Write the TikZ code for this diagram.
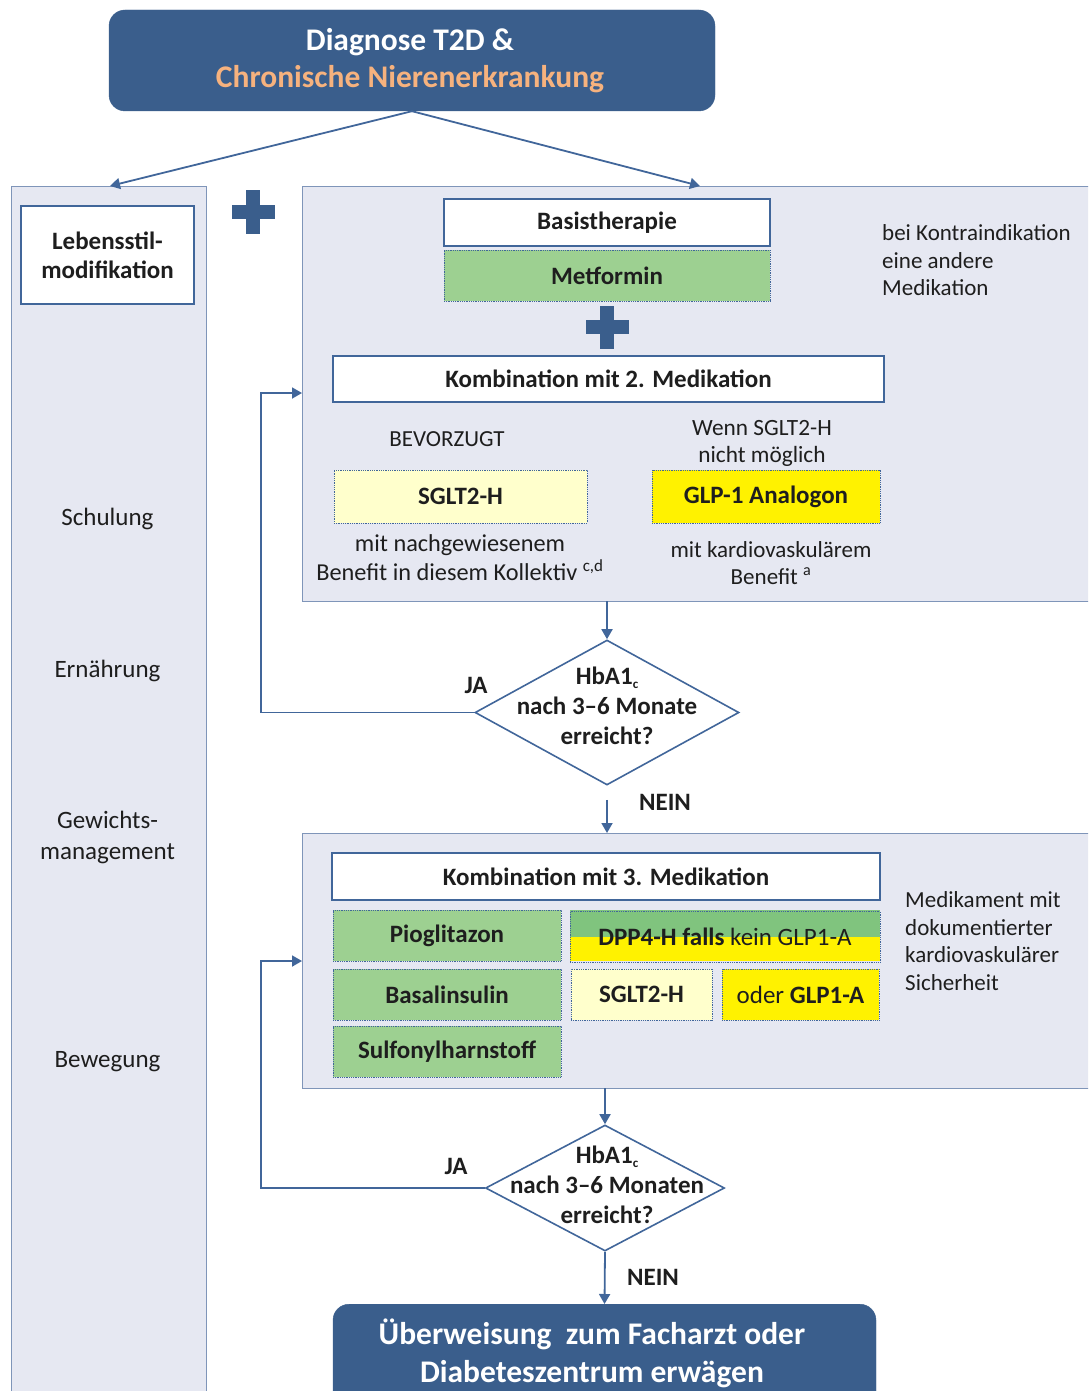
\documentclass[tikz,border=0pt]{standalone}
\usepackage{fontspec}
\setmainfont{Carlito}
\usetikzlibrary{arrows.meta,shapes.geometric}
\definecolor{dblue}{HTML}{3A5E8C}
\definecolor{lineblue}{HTML}{41669A}
\definecolor{panelfill}{HTML}{E6E8F2}
\definecolor{panelborder}{HTML}{7F95B9}
\definecolor{mgreen}{HTML}{9DD091}
\definecolor{dgreen}{HTML}{80C47E}
\definecolor{lyellow}{HTML}{FFFFCC}
\definecolor{orangetxt}{HTML}{F6B27E}
\definecolor{txtcol}{HTML}{1E1E1E}
\tikzset{
  panelbox/.style={draw=panelborder, line width=1pt, fill=panelfill, anchor=north west, inner sep=0},
  wbox/.style={draw=lineblue, line width=1.6pt, fill=white, inner sep=0, align=center, text=txtcol,
    font=\bfseries\fontsize{25}{29}\selectfont},
  dbox/.style={draw=lineblue, densely dotted, line width=0.8pt, inner sep=0, align=center, text=txtcol,
    font=\bfseries\fontsize{25}{29}\selectfont},
  txt/.style={inner sep=0, align=center, text=txtcol, font=\fontsize{25}{31}\selectfont},
  btxt/.style={inner sep=0, align=center, text=txtcol, font=\bfseries\fontsize{25}{30}\selectfont},
  side/.style={inner sep=0, align=left, anchor=west, text=txtcol, font=\fontsize{23}{27.5}\selectfont},
  bluebox/.style={fill=dblue, draw=dblue, rounded corners=16pt, inner sep=0},
  diam/.style={diamond, draw=lineblue, line width=1.6pt, fill=white, inner sep=0},
  arr/.style={draw=lineblue, line width=1.8pt, -{Triangle[width=11pt,length=10pt]}},
}
\newcommand{\hbac}{HbA1\raisebox{-0.35ex}{\fontsize{13}{13}\selectfont c}}
\begin{document}
\begin{tikzpicture}[x=1pt,y=-1pt]
\useasboundingbox (0,0) rectangle (1088,1391);
\clip (0,0) rectangle (1088,1391);

% panels
\node[panelbox, minimum width=195pt, minimum height=1220pt] (lp) at (11,186) {};
\node[panelbox, minimum width=800pt, minimum height=415pt] (rp1) at (302,186) {};
\node[panelbox, minimum width=800pt, minimum height=255pt] (rp2) at (302,833) {};

% title
\node[bluebox, minimum width=606pt, minimum height=101pt] (title) at (412,60.5) {};
\node[inner sep=0, align=center, font=\bfseries\fontsize{31.5}{37}\selectfont] (titletxt) at (410,61)
  {\textcolor{white}{Diagnose T2D \&}\\\textcolor{orangetxt}{Chronische Nierenerkrankung}};

\coordinate (lpTop) at (110,186);
\coordinate (rpTop) at (700,186);
\draw[arr] (title.south) -- (lpTop);
\draw[arr] (title.south) -- (rpTop);

% left column
\node[wbox, minimum width=173pt, minimum height=98pt] (lsm) at (107.5,255) {Lebensstil-\\modifikation};
\node[txt] (schul) at (107.5,519) {Schulung};
\node[txt] (ern) at (107.5,671) {Ernährung};
\node[txt] (gew) at (107.5,837) {Gewichts-\\management};
\node[txt] (bew) at (107.5,1062) {Bewegung};

% plus icons
\fill[dblue] (231.5,205) rectangle (274.5,219);
\fill[dblue] (246,190.5) rectangle (260,233.5);
\fill[dblue] (585.5,320) rectangle (628.5,334);
\fill[dblue] (600,305.5) rectangle (614,348.5);

% panel 1
\node[wbox, minimum width=326pt, minimum height=47pt] (basis) at (607,222.5) {Basistherapie};
\node[dbox, fill=mgreen, minimum width=326pt, minimum height=51pt] (met) at (607,275.5) {Metformin};
\node[side] (kontra) at (882,260.5) {bei Kontraindikation\\eine andere\\Medikation};
\node[wbox, minimum width=551pt, minimum height=46pt] (komb2) at (608.5,379) {Kombination mit 2. Medikation};
\node[txt, font=\fontsize{23}{27}\selectfont] (bev) at (447,439) {BEVORZUGT};
\node[txt, font=\fontsize{23.3}{27}\selectfont] (wenn) at (762,443.5) {Wenn SGLT2-H\\nicht möglich};
\node[dbox, fill=lyellow, minimum width=253pt, minimum height=53pt] (sglt) at (460.5,496.5) {SGLT2-H};
\node[dbox, fill=yellow, minimum width=228pt, minimum height=53pt] (glp) at (766,496.5) {GLP-1 Analogon};
\node[txt, font=\fontsize{24.3}{29}\selectfont] (sgltnote) at (460,557.5) {mit nachgewiesenem\\Benefit in diesem Kollektiv \textsuperscript{c,d}};
\node[txt, font=\fontsize{23}{27}\selectfont] (glpnote) at (771,563.5) {mit kardiovaskulärem\\Benefit \textsuperscript{a}};

% diamond 1
\coordinate (rp1b) at (607,601);
\node[diam, minimum width=264pt, minimum height=145pt] (d1) at (607,712.5) {};
\node[btxt] (d1t) at (607,706) {\hbac\\nach 3--6 Monate\\erreicht?};
\draw[arr] (rp1b) -- (d1.north);
\coordinate (j1) at (261,712.5);
\coordinate (e1) at (302,393);
\draw[arr] (d1.west) -- (j1) |- (e1);
\node[btxt] (ja1) at (476,685) {JA};
\coordinate (rp2t) at (607,833);
\draw[arr, shorten <=14pt] (d1.south) -- (rp2t);
\node[btxt] (nein1) at (665,802) {NEIN};

% panel 2
\node[wbox, minimum width=548pt, minimum height=47pt] (komb3) at (606,876.5) {Kombination mit 3. Medikation};
\node[dbox, fill=mgreen, minimum width=228pt, minimum height=51pt] (pio) at (447,935.5) {Pioglitazon};
\fill[dgreen] (570,910) rectangle (880,937);
\fill[yellow] (570,937) rectangle (880,961);
\node[dbox, minimum width=310pt, minimum height=51pt] (dpp) at (725,937) {DPP4-H falls \mdseries kein GLP1-A};
\node[dbox, fill=mgreen, minimum width=228pt, minimum height=51pt] (basal) at (447,994.5) {Basalinsulin};
\node[dbox, fill=lyellow, minimum width=141pt, minimum height=51pt] (sglt3) at (641.5,994.5) {SGLT2-H};
\node[dbox, fill=yellow, minimum width=157pt, minimum height=51pt] (glp3) at (800.5,994.5) {\mdseries oder \bfseries GLP1-A};
\node[dbox, fill=mgreen, minimum width=228pt, minimum height=51pt] (sulf) at (447,1051.5) {Sulfonylharnstoff};
\node[side] (medi) at (905,941) {Medikament mit\\dokumentierter\\kardiovaskulärer\\Sicherheit};

% diamond 2
\coordinate (rp2b) at (605,1088);
\node[diam, minimum width=239pt, minimum height=126pt] (d2) at (605,1188) {};
\node[btxt] (d2t) at (607,1185) {\hbac\\nach 3--6 Monaten\\erreicht?};
\draw[arr] (rp2b) -- (d2.north);
\coordinate (j2) at (261,1188);
\coordinate (e2) at (302,961);
\draw[arr] (d2.west) -- (j2) |- (e2);
\node[btxt] (ja2) at (456,1166) {JA};
\node[btxt] (nein2) at (653,1277) {NEIN};

% referral
\node[bluebox, minimum width=543pt, minimum height=130pt, anchor=north] (ref) at (604.5,1304) {};
\node[inner sep=0, align=center, text=white, font=\bfseries\fontsize{31.5}{38}\selectfont] (reft) at (592,1353)
  {Überweisung\ \ zum Facharzt oder\\Diabeteszentrum erwägen};
\draw[arr] (d2.south) -- (ref.north);
\end{tikzpicture}
\end{document}
